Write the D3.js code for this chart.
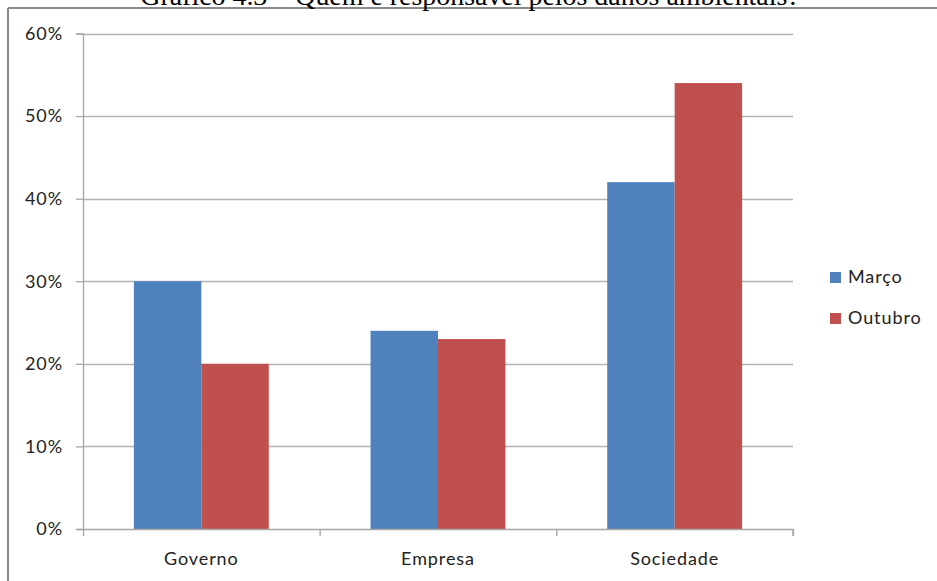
<!DOCTYPE html>
<html><head><meta charset="utf-8">
<script src="https://cdn.jsdelivr.net/npm/d3@7"></script>
<style>html,body{margin:0;padding:0;background:#fff;overflow:hidden}</style>
</head><body>
<svg id="c" width="937" height="581"></svg>
<script>
const categories = ["Governo", "Empresa", "Sociedade"];
const seriesNames = ["Março", "Outubro"];
const marco = [30, 24, 42];
const outubro = [20, 23, 54];
const yTicks = [0, 10, 20, 30, 40, 50, 60];
const colors = ["#4F81BD", "#C0504D"];
const titleText = "Gráfico 4.3 – Quem é responsável pelos danos ambientais?";

(function () {
const svg = d3.select("#c");
const font = "Lato, 'Open Sans', sans-serif";
const fs = 18, ls = 0.9;

// page border
svg.append("line").attr("x1", 8).attr("x2", 937).attr("y1", 8).attr("y2", 8)
  .attr("stroke", "#8a8a8a").attr("stroke-width", 2);
svg.append("line").attr("x1", 8).attr("x2", 8).attr("y1", 8).attr("y2", 581)
  .attr("stroke", "#8a8a8a").attr("stroke-width", 2);

// title (cut off at top, as in the source image)
const t = svg.append("text").attr("x", 470).attr("y", 5).attr("text-anchor", "middle")
  .attr("font-family", "'Liberation Serif', 'Times New Roman', serif")
  .attr("font-size", 24).attr("fill", "#000").text(titleText);
const w = t.node().getComputedTextLength();
t.attr("font-size", 24 * 660 / w);

const pLeft = 83, pRight = 793, pTop = 33.5, pBottom = 529;
const x0 = d3.scaleBand().domain(categories).range([pLeft, pRight]).paddingInner(0.43).paddingOuter(0.215);
const x1 = d3.scaleBand().domain(seriesNames).range([0, x0.bandwidth()]);
const y = d3.scaleLinear().domain([0, 60]).range([pBottom, pTop]);

// gridlines
svg.append("g").selectAll("line").data(yTicks.filter(d => d > 0)).join("line")
  .attr("x1", pLeft).attr("x2", pRight)
  .attr("y1", d => Math.round(y(d)) + 0.5).attr("y2", d => Math.round(y(d)) + 0.5)
  .attr("stroke", "#b3b3b3").attr("stroke-width", 1.3);

// bars
const data = categories.map((c, i) => ({c, vals: [marco[i], outubro[i]]}));
svg.append("g").selectAll("g").data(data).join("g")
  .attr("transform", d => `translate(${x0(d.c)},0)`)
  .selectAll("rect").data(d => d.vals.map((v, j) => ({s: seriesNames[j], v, j}))).join("rect")
  .attr("x", d => x1(d.s)).attr("width", x1.bandwidth())
  .attr("y", d => y(d.v)).attr("height", d => pBottom - y(d.v))
  .attr("fill", d => colors[d.j]);

// y axis
const yAxis = d3.axisLeft(y).tickValues(yTicks).tickFormat(d => d + "%").tickSize(7).tickPadding(13);
const ga = svg.append("g").attr("transform", `translate(${pLeft},0)`).call(yAxis);
ga.select(".domain").attr("stroke", "#a6a6a6").attr("stroke-width", 1.3);
ga.selectAll(".tick line").attr("stroke", "#a6a6a6").attr("stroke-width", 1.3);
ga.selectAll(".tick text").attr("font-family", font).attr("font-size", fs)
  .attr("letter-spacing", ls).attr("fill", "#222");

// x axis
const xb = d3.scalePoint().domain(d3.range(4)).range([pLeft, pRight]);
const xAxis = d3.axisBottom(xb).tickSize(7).tickFormat("");
const gx = svg.append("g").attr("transform", `translate(0,${pBottom})`).call(xAxis);
gx.select(".domain").attr("stroke", "#a6a6a6").attr("stroke-width", 1.3).attr("d", `M${pLeft},0.5H${pRight}V7`);
gx.selectAll(".tick line").attr("stroke", "#a6a6a6").attr("stroke-width", 1.3);
svg.append("g").selectAll("text").data(categories).join("text")
  .attr("x", d => x0(d) + x0.bandwidth() / 2).attr("y", 565)
  .attr("text-anchor", "middle").attr("font-family", font).attr("font-size", fs)
  .attr("letter-spacing", ls).attr("fill", "#222")
  .text(d => d);

// legend
const lg = svg.append("g").selectAll("g").data(seriesNames).join("g")
  .attr("transform", (d, i) => `translate(830,${272 + i * 41})`);
lg.append("rect").attr("width", 11).attr("height", 11).attr("fill", (d, i) => colors[i]);
lg.append("text").attr("x", 18).attr("y", 11).attr("font-family", font).attr("font-size", fs)
  .attr("letter-spacing", ls).attr("fill", "#222").text(d => d);
})();
</script>
</body></html>
